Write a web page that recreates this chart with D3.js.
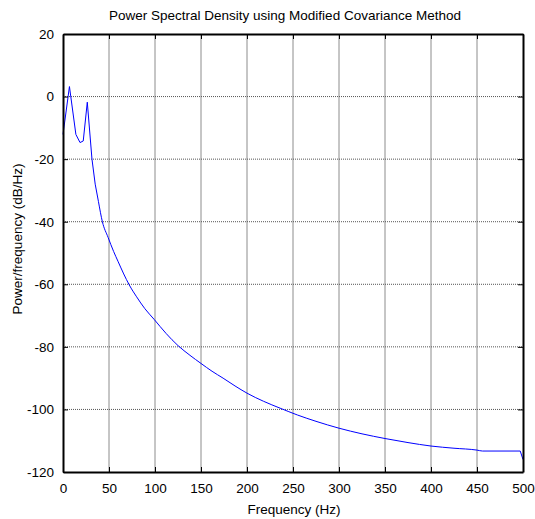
<!DOCTYPE html>
<html>
<head>
<meta charset="utf-8">
<script src="https://cdn.jsdelivr.net/npm/d3@7/dist/d3.min.js"></script>
<style>
  html, body { margin: 0; padding: 0; background: #fff; }
  svg { display: block; }
  text { font-family: "Liberation Sans", Arial, sans-serif; fill: #000; }
</style>
</head>
<body>
<svg id="chart" width="535" height="519"></svg>
<script>
// Spectrum estimate: frequency (Hz) and power/frequency (dB/Hz)
const freqHz = [0, 7, 14, 18.5, 22, 26.4, 31.5, 35, 38.5, 42.8, 49, 55, 60, 66, 72, 80, 89, 99,
  112, 125, 138, 150, 162, 174, 187, 200, 218, 236, 255, 275, 300, 325, 350, 375, 400, 425,
  450, 456, 497, 500];
const powerDb = [-12.1, 3.2, -12.1, -14.7, -14.2, -1.8, -20, -28, -33.5, -40, -45, -49.5, -52.8,
  -56.7, -60.2, -64, -67.8, -71.2, -75.7, -79.6, -82.7, -85.3, -87.8, -90.0, -92.5, -94.8, -97.4,
  -99.6, -101.8, -103.8, -106, -107.8, -109.3, -110.6, -111.7, -112.4, -113, -113.3, -113.3, -116];

const xTicks = [0, 50, 100, 150, 200, 250, 300, 350, 400, 450, 500];
const yTicks = [-120, -100, -80, -60, -40, -20, 0, 20];

const titleText = "Power Spectral Density using Modified Covariance Method";
const xLabel = "Frequency (Hz)";
const yLabel = "Power/frequency (dB/Hz)";

const svg = d3.select("#chart");
const plot = { left: 63, right: 523, top: 34, bottom: 472 };
const fontSize = "13.5px";

const x = d3.scaleLinear().domain([0, 500]).range([plot.left, plot.right]);
const y = d3.scaleLinear().domain([-120, 20]).range([plot.bottom, plot.top]);

// grid
const grid = svg.append("g");
grid.selectAll("line.v").data(xTicks.slice(1, -1)).join("line")
  .attr("x1", d => x(d)).attr("x2", d => x(d))
  .attr("y1", plot.top).attr("y2", plot.bottom)
  .attr("stroke", "#8c8c8c").attr("stroke-width", 1);
grid.selectAll("line.h").data(yTicks.slice(1, -1)).join("line")
  .attr("x1", plot.left).attr("x2", plot.right)
  .attr("y1", d => y(d)).attr("y2", d => y(d))
  .attr("stroke", "#555").attr("stroke-width", 1).attr("stroke-dasharray", "1,1");

// spectrum curve: sharp peaks drawn straight, smooth roll-off drawn with a monotone curve
const pts = powerDb.map((v, i) => [freqHz[i], v]);
const split = 8;           // start of the smooth roll-off
const tailEnd = pts.length - 2;
const straight = d3.line().x(d => x(d[0])).y(d => y(d[1]));
const smooth = d3.line().x(d => x(d[0])).y(d => y(d[1])).curve(d3.curveMonotoneX);
const segments = [
  { d: straight(pts.slice(0, split + 1)) },
  { d: smooth(pts.slice(split, tailEnd + 1)) },
  { d: straight(pts.slice(tailEnd)) }
];
svg.append("g").selectAll("path").data(segments).join("path")
  .attr("d", s => s.d)
  .attr("fill", "none").attr("stroke", "#0000ff").attr("stroke-width", 1)
  .attr("stroke-linejoin", "round");

// axes with inward ticks on all four sides
function styleAxis(g) {
  g.select(".domain").attr("stroke", "#000").attr("stroke-width", 2);
  g.selectAll(".tick line").attr("stroke", "#000").attr("stroke-width", 1);
  g.selectAll(".tick text").style("font-size", fontSize)
    .style("font-family", "'Liberation Sans', Arial, sans-serif");
}

svg.append("g").attr("transform", `translate(0,${plot.bottom})`)
  .call(d3.axisBottom(x).tickValues(xTicks).tickSizeInner(-5).tickSizeOuter(0).tickPadding(11))
  .call(styleAxis);
svg.append("g").attr("transform", `translate(0,${plot.top})`)
  .call(d3.axisTop(x).tickValues(xTicks).tickSizeInner(-5).tickSizeOuter(0).tickFormat(""))
  .call(styleAxis);
svg.append("g").attr("transform", `translate(${plot.left},0)`)
  .call(d3.axisLeft(y).tickValues(yTicks).tickSizeInner(-5).tickSizeOuter(0).tickPadding(9)
    .tickFormat(d => String(d).replace("\u2212", "-")))
  .call(styleAxis);
svg.append("g").attr("transform", `translate(${plot.right},0)`)
  .call(d3.axisRight(y).tickValues(yTicks).tickSizeInner(-5).tickSizeOuter(0).tickFormat(""))
  .call(styleAxis);

// titles
svg.append("text").attr("x", 285).attr("y", 20).attr("text-anchor", "middle")
  .style("font-size", fontSize).text(titleText);
svg.append("text").attr("x", 294).attr("y", 514).attr("text-anchor", "middle")
  .style("font-size", fontSize).text(xLabel);
svg.append("text").attr("transform", "translate(22,239) rotate(-90)")
  .attr("text-anchor", "middle").style("font-size", fontSize).text(yLabel);
</script>
</body>
</html>
